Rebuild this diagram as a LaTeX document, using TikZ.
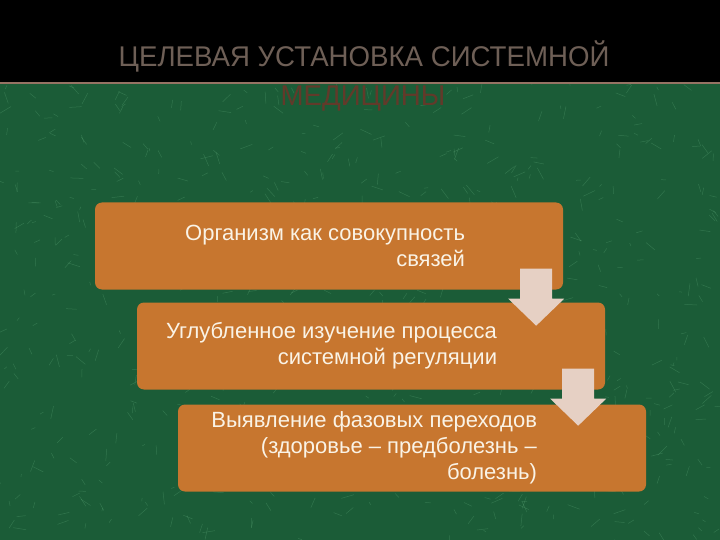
\documentclass[tikz,border=0pt]{standalone}
\usepackage{fontspec}
\setmainfont{Liberation Sans}
\newfontfamily\titlefont[FakeStretch=0.97]{Liberation Sans}
\usetikzlibrary{positioning,calc}
\definecolor{marble_green}{RGB}{27,92,55}
\definecolor{vein_green}{RGB}{110,185,135}
\definecolor{box_orange}{RGB}{199,118,47}
\definecolor{arrow_pink}{RGB}{230,208,196}
\definecolor{text_cream}{RGB}{250,243,230}
\definecolor{title_brown}{RGB}{110,95,86}
\definecolor{title_dark}{RGB}{98,58,42}
\definecolor{rule_brown}{RGB}{150,115,100}

\newcommand{\blockarrow}[1]{%
  \fill[arrow_pink] ($(#1)+(-16,0)$) -- ++(32,0) -- ++(0,30) -- ++(12,0)
    -- ++(-28,27) -- ++(-28,-27) -- ++(12,0) -- cycle;}

\begin{document}
\begin{tikzpicture}[x=1pt,y=-1pt]
    \tikzstyle{stage}=[fill=box_orange, rounded corners=7pt, minimum width=468pt, minimum height=87pt, inner sep=0pt]
    \tikzstyle{stagetext}=[text=text_cream, align=right, font=\fontsize{22}{26}\selectfont, inner sep=0pt]
    \tikzstyle{title}=[text=title_brown, font=\titlefont\fontsize{28.5}{34}\selectfont, inner sep=0pt, anchor=base]

    \useasboundingbox (0,0) rectangle (720,540);
    % marble background
    \fill[marble_green] (0,0) rectangle (720,540);
    \pgfmathsetseed{11}
    \foreach \i in {1,...,700}{
      \pgfmathsetmacro\vx{rnd*720}
      \pgfmathsetmacro\vy{84+rnd*456}
      \pgfmathsetmacro\va{rnd*360}
      \pgfmathsetmacro\vl{3+rnd*10}
      \draw[vein_green, opacity=0.28, line width=0.5pt] (\vx,\vy) -- ++(\va:\vl);
    }
    % title band
    \fill[black] (0,0) rectangle (720,82);
    \draw[rule_brown, line width=1.5pt] (0,83) -- (720,83);
    \node[title] (heading) at (364,67) {ЦЕЛЕВАЯ УСТАНОВКА СИСТЕМНОЙ};
    \node[title, text=title_dark] (headingb) at (363,106) {МЕДИЦИНЫ};

    \node[stage] (organism)   at (329,246) {};
    \node[stage] (regulation) at (371,346) {};
    \node[stage] (phases)     at (412,448) {};

    \node[stagetext, left=98pt of organism.east]    (organismtxt)   {Организм как совокупность\\связей};
    \node[stagetext, left=108pt of regulation.east] (regulationtxt) {Углубленное изучение процесса\\системной регуляции};
    \node[stagetext, left=109pt of phases.east]     (phasestxt)     {Выявление фазовых переходов\\(здоровье – предболезнь –\\болезнь)};

    \coordinate (arrowA) at ($(organism.south east)+(-27,-21)$);
    \coordinate (arrowB) at ($(regulation.south east)+(-27,-21)$);
    \blockarrow{arrowA}
    \blockarrow{arrowB}
\end{tikzpicture}
\end{document}
